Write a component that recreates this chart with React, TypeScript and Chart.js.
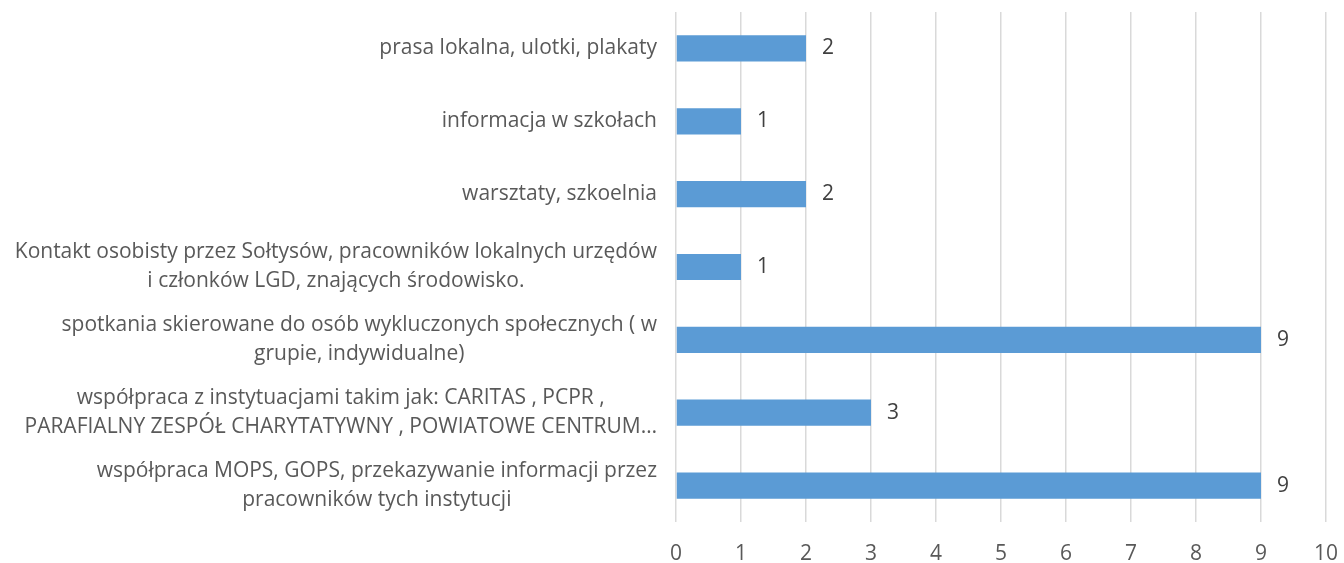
import React, { useEffect, useRef } from "react";
import { Chart, registerables } from "chart.js";

Chart.register(...registerables);

const categories: string[][] = [
  ["prasa lokalna, ulotki, plakaty"],
  ["informacja w szkołach"],
  ["warsztaty, szkoelnia"],
  ["Kontakt osobisty przez Sołtysów, pracowników lokalnych urzędów", "i członków LGD, znających środowisko."],
  ["spotkania skierowane do osób wykluczonych społecznych ( w", "grupie, indywidualne)"],
  ["współpraca z instytuacjami takim jak: CARITAS , PCPR ,", "PARAFIALNY ZESPÓŁ CHARYTATYWNY , POWIATOWE CENTRUM…"],
  ["współpraca MOPS, GOPS, przekazywanie informacji przez", "pracowników tych instytucji"],
];
const values: number[] = [2, 1, 2, 1, 9, 3, 9];
const xTicks: number[] = [0, 1, 2, 3, 4, 5, 6, 7, 8, 9, 10];

const FONT = "'Open Sans', 'Noto Sans', sans-serif";
const FONT_SIZE = 21;

const labelsPlugin = {
  id: "customLabels",
  afterDraw(chart: any) {
    const ctx = chart.ctx;
    const yScale = chart.scales.y;
    const meta = chart.getDatasetMeta(0);
    ctx.save();
    ctx.font = `${FONT_SIZE}px ${FONT}`;
    ctx.textBaseline = "middle";
    const rightEdge = chart.chartArea.left - 19;
    const lineH = 29;
    categories.forEach((lines, i) => {
      const cy = yScale.getPixelForValue(i);
      const widths = lines.map((l) => ctx.measureText(l).width);
      const bw = Math.max(...widths);
      const cx = rightEdge - bw / 2;
      ctx.fillStyle = "#595959";
      ctx.textAlign = "center";
      lines.forEach((l, j) => {
        const y = cy + (j - (lines.length - 1) / 2) * lineH;
        ctx.fillText(l, cx, y);
      });
    });
    ctx.fillStyle = "#404040";
    ctx.textAlign = "left";
    meta.data.forEach((bar: any, i: number) => {
      ctx.fillText(String(values[i]), bar.x + 16, bar.y);
    });
    ctx.restore();
  },
};

export default function App() {
  const ref = useRef<HTMLCanvasElement | null>(null);
  useEffect(() => {
    if (!ref.current) return;
    const chart = new Chart(ref.current, {
      type: "bar",
      data: {
        labels: categories.map((c) => c.join(" ")),
        datasets: [
          {
            data: values,
            backgroundColor: "#5b9bd5",
            borderWidth: 0,
            barPercentage: 0.36,
            categoryPercentage: 1,
          },
        ],
      },
      options: {
        indexAxis: "y",
        animation: false,
        responsive: false,
        maintainAspectRatio: false,
        layout: { padding: { left: 676, right: 18, top: 12, bottom: 0 } },
        plugins: { legend: { display: false }, tooltip: { enabled: false } },
        scales: {
          x: {
            min: 0,
            max: 10,
            afterBuildTicks: (scale: any) => {
              scale.ticks = xTicks.map((v) => ({ value: v }));
            },
            afterFit: (scale: any) => {
              scale.paddingLeft = 0;
              scale.paddingRight = 0;
              scale.paddingTop = 0;
              scale.paddingBottom = 0;
              scale.height = 41;
            },
            grid: { color: "#d9d9d9", lineWidth: 1.5, drawTicks: false },
            border: { display: false },
            ticks: {
              color: "#595959",
              font: { family: FONT, size: FONT_SIZE },
              padding: 19,
            },
          },
          y: {
            display: false,
            offset: true,
          },
        },
      },
      plugins: [labelsPlugin],
    });
    return () => chart.destroy();
  }, []);
  return (
    <div style={{ position: "fixed", left: 0, top: 0, width: 1344, height: 563 }}>
      <canvas ref={ref} width={1344} height={563} style={{ display: "block" }} />
    </div>
  );
}
